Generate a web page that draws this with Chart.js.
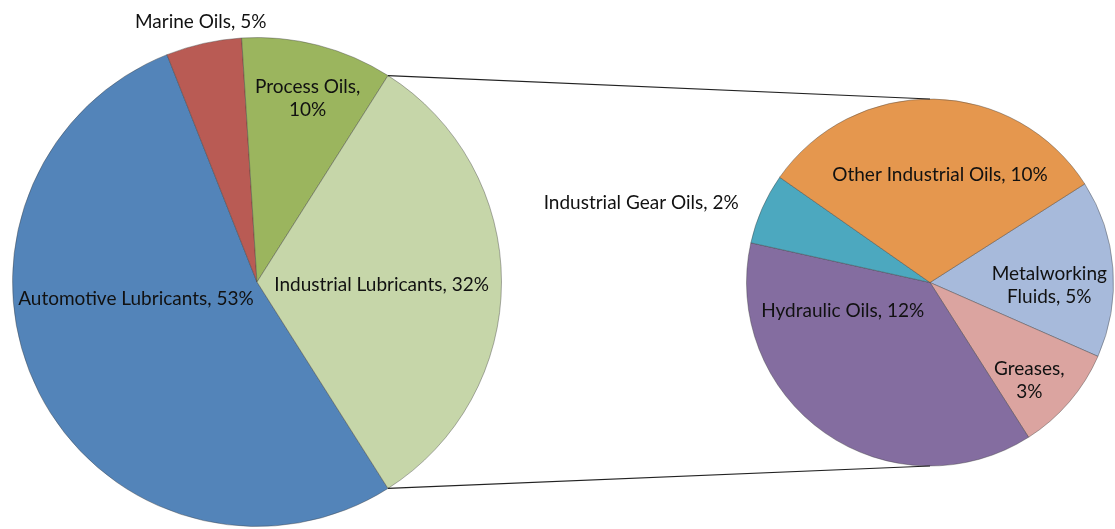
<!DOCTYPE html>
<html>
<head>
<meta charset="utf-8">
<script src="https://cdn.jsdelivr.net/npm/chart.js@4.4.0/dist/chart.umd.min.js"></script>
<style>
  html, body { margin: 0; padding: 0; background: #fff; }
  #wrap { position: relative; width: 1115px; height: 529px; }
  #wrap canvas { position: absolute; left: 0; top: 0; }
</style>
</head>
<body>
<div id="wrap">
  <canvas id="main" width="1115" height="529"></canvas>
  <canvas id="sub" width="1115" height="529"></canvas>
</div>
<script>
// ---- data ----
const mainLabels = ['Automotive Lubricants', 'Marine Oils', 'Process Oils', 'Industrial Lubricants'];
const mainValues = [53, 5, 10, 32];
const splitIndex = 3; // Industrial Lubricants is broken out into the second pie
const subLabels = ['Metalworking Fluids', 'Greases', 'Hydraulic Oils', 'Industrial Gear Oils', 'Other Industrial Oils'];
const subValues = [5, 3, 12, 2, 10];

// ---- styles ----
const mainColors = ['#5384B9', '#B95B54', '#9BB55E', '#C6D6A9'];
const subColors = ['#A7BADB', '#DBA4A0', '#846DA0', '#4CA8BF', '#E5974E'];
// label placement: polar angle (deg, screen), fraction of radius, words on first line, alignment
const mainLabelPos = [
  { angle: 172, frac: 0.50, wrap: 0, align: 'center' },
  { angle: 257.8, frac: 1.09, wrap: 0, align: 'center' },
  { angle: 285.4, frac: 0.78, wrap: 2, align: 'center' },
  { angle: 1.4, frac: 0.51, wrap: 0, align: 'center' }
];
const subLabelPos = [
  { angle: 1.2, frac: 0.65, wrap: 1, align: 'center' },
  { angle: 44.6, frac: 0.76, wrap: 1, align: 'center' },
  { angle: 161.9, frac: 0.50, wrap: 0, align: 'center' },
  { angle: 202.7, frac: 1.13, wrap: 0, align: 'right' },
  { angle: 275.3, frac: 0.59, wrap: 0, align: 'center' }
];
const FONT = '19px Lato';
const LINE_H = 23;

function labelPlugin(labels, values, pos) {
  return {
    id: 'sliceLabels',
    afterDatasetsDraw(chart) {
      const ctx = chart.ctx;
      const arcs = chart.getDatasetMeta(0).data;
      ctx.save();
      ctx.font = FONT;
      ctx.fillStyle = '#111111';
      ctx.textBaseline = 'middle';
      arcs.forEach((arc, i) => {
        const p = pos[i];
        const a = p.angle * Math.PI / 180;
        const x = arc.x + Math.cos(a) * arc.outerRadius * p.frac;
        const y = arc.y + Math.sin(a) * arc.outerRadius * p.frac;
        const text = labels[i] + ', ' + values[i] + '%';
        let lines = [text];
        if (p.wrap > 0) {
          const words = text.split(' ');
          lines = [words.slice(0, p.wrap).join(' '), words.slice(p.wrap).join(' ')];
        }
        ctx.textAlign = p.align;
        const y0 = y - (lines.length - 1) * LINE_H / 2;
        lines.forEach((ln, k) => ctx.fillText(ln, x, y0 + k * LINE_H));
      });
      ctx.restore();
    }
  };
}

const common = {
  responsive: false,
  animation: false,
  events: [],
  plugins: { legend: { display: false }, tooltip: { enabled: false } }
};

const mainChart = new Chart(document.getElementById('main'), {
  type: 'pie',
  data: {
    labels: mainLabels,
    datasets: [{
      data: mainValues,
      backgroundColor: mainColors,
      borderColor: 'rgba(60,60,60,0.4)',
      borderWidth: 1,
      hoverOffset: 0
    }]
  },
  options: Object.assign({}, common, {
    rotation: 147.6,
    layout: { padding: { left: 12, top: 37, right: 613, bottom: 2 } }
  }),
  plugins: [labelPlugin(mainLabels, mainValues, mainLabelPos)]
});

const connectorPlugin = {
  id: 'connectors',
  afterDatasetsDraw(chart) {
    const src = mainChart.getDatasetMeta(0).data[splitIndex];
    const dst = chart.getDatasetMeta(0).data[0];
    const ctx = chart.ctx;
    const p1 = { x: src.x + Math.cos(src.startAngle) * src.outerRadius, y: src.y + Math.sin(src.startAngle) * src.outerRadius };
    const p2 = { x: src.x + Math.cos(src.endAngle) * src.outerRadius, y: src.y + Math.sin(src.endAngle) * src.outerRadius };
    const top = { x: dst.x, y: dst.y - dst.outerRadius };
    const bot = { x: dst.x, y: dst.y + dst.outerRadius };
    ctx.save();
    ctx.strokeStyle = '#222';
    ctx.lineWidth = 1.2;
    ctx.beginPath();
    ctx.moveTo(p1.x, p1.y); ctx.lineTo(top.x, top.y);
    ctx.moveTo(p2.x, p2.y); ctx.lineTo(bot.x, bot.y);
    ctx.stroke();
    ctx.restore();
  }
};

const subChart = new Chart(document.getElementById('sub'), {
  type: 'pie',
  data: {
    labels: subLabels,
    datasets: [{
      data: subValues,
      backgroundColor: subColors,
      borderColor: 'rgba(60,60,60,0.4)',
      borderWidth: 1,
      hoverOffset: 0
    }]
  },
  options: Object.assign({}, common, {
    rotation: 57.5,
    layout: { padding: { left: 746, top: 97, right: 1, bottom: 61 } }
  }),
  plugins: [connectorPlugin, labelPlugin(subLabels, subValues, subLabelPos)]
});
</script>
</body>
</html>
